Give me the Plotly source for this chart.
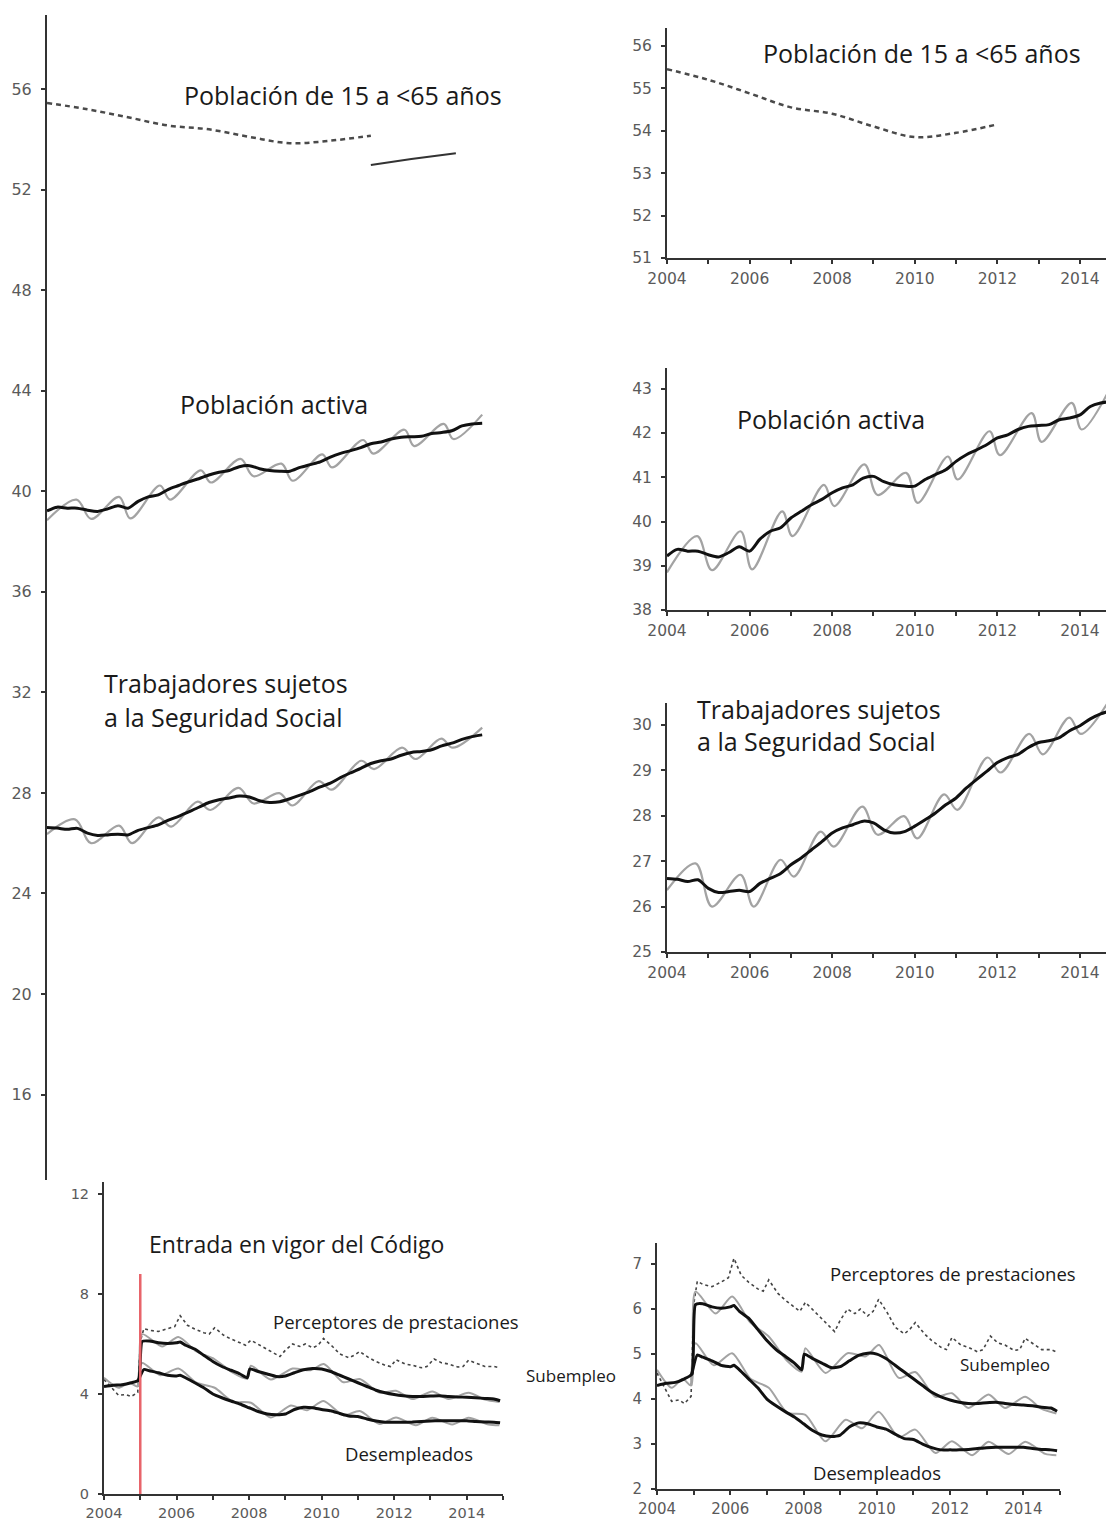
import plotly.graph_objects as go

W, H = 1106, 1521

# ---------------- data ----------------
pop_years = [2004, 2005, 2006, 2007, 2008, 2009, 2010, 2011, 2012]
pop_1565 = [55.45, 55.2, 54.88, 54.55, 54.4, 54.1, 53.85, 53.95, 54.15]
pop_new_years = [2012.0, 2013.0, 2014.1]
pop_new = [52.98, 53.22, 53.45]

q_years = [2004 + i * 0.25 for i in range(44)]
activa_trend = [39.22, 39.37, 39.33, 39.33, 39.25, 39.2, 39.3, 39.43, 39.33, 39.6, 39.78, 39.86,
                40.08, 40.23, 40.38, 40.5, 40.65, 40.76, 40.83, 40.98, 41.02, 40.9, 40.83, 40.8,
                40.8, 40.95, 41.06, 41.17, 41.36, 41.51, 41.62, 41.74, 41.89, 41.96, 42.08, 42.15,
                42.17, 42.19, 42.3, 42.34, 42.41, 42.6, 42.68, 42.71]
activa_seas_x = [2004.0, 2004.73, 2005.09, 2005.78, 2006.06, 2006.79, 2007.04, 2007.8, 2008.05,
                 2008.78, 2009.1, 2009.79, 2010.07, 2010.8, 2011.04, 2011.81, 2012.06, 2012.83,
                 2013.07, 2013.8, 2014.04, 2014.75]
activa_seas = [38.85, 39.67, 38.9, 39.78, 38.92, 40.23, 39.67, 40.83, 40.35, 41.29, 40.6, 41.1,
               40.42, 41.47, 40.95, 42.04, 41.5, 42.45, 41.8, 42.68, 42.08, 43.05]

ss_trend = [26.62, 26.6, 26.55, 26.59, 26.4, 26.31, 26.33, 26.36, 26.33, 26.51, 26.62, 26.73,
            26.92, 27.07, 27.25, 27.43, 27.62, 27.73, 27.8, 27.88, 27.84, 27.69, 27.62, 27.65,
            27.77, 27.91, 28.06, 28.24, 28.39, 28.61, 28.8, 28.98, 29.17, 29.28, 29.35, 29.5,
            29.61, 29.65, 29.72, 29.87, 29.98, 30.13, 30.24, 30.31]
ss_seas_x = [2004.0, 2004.69, 2005.09, 2005.78, 2006.1, 2006.75, 2007.07, 2007.72, 2008.04,
             2008.73, 2009.1, 2009.74, 2010.06, 2010.71, 2011.03, 2011.76, 2012.08, 2012.77,
             2013.1, 2013.74, 2014.02, 2014.75]
ss_seas = [26.36, 26.95, 26.0, 26.7, 26.0, 27.03, 26.66, 27.65, 27.32, 28.2, 27.58, 27.99,
           27.5, 28.47, 28.13, 29.28, 28.95, 29.8, 29.35, 30.16, 29.8, 30.6]

perc_x = [2004.0, 2004.25, 2004.4, 2004.6, 2004.75, 2004.93, 2005.0, 2005.1, 2005.25, 2005.5,
          2005.75, 2005.95, 2006.1, 2006.3, 2006.5, 2006.75, 2006.9, 2007.05, 2007.3, 2007.5,
          2007.75, 2007.9, 2008.05, 2008.3, 2008.5, 2008.75, 2008.85, 2009.0, 2009.2, 2009.4,
          2009.55, 2009.75, 2009.9, 2010.05, 2010.3, 2010.5, 2010.75, 2010.9, 2011.05, 2011.3,
          2011.5, 2011.75, 2011.9, 2012.05, 2012.3, 2012.5, 2012.75, 2012.9, 2013.1, 2013.3,
          2013.5, 2013.75, 2013.9, 2014.05, 2014.3, 2014.5, 2014.75, 2014.9]
perceptores = [4.58, 4.2, 3.95, 3.98, 3.9, 4.06, 6.1, 6.62, 6.55, 6.5,
               6.6, 6.7, 7.13, 6.75, 6.6, 6.45, 6.4, 6.65, 6.35, 6.2,
               6.05, 5.95, 6.15, 5.95, 5.8, 5.6, 5.5, 5.75, 6.0, 5.9,
               6.0, 5.85, 5.95, 6.22, 5.9, 5.6, 5.45, 5.55, 5.7, 5.45,
               5.3, 5.15, 5.1, 5.37, 5.2, 5.15, 5.05, 5.1, 5.4, 5.25,
               5.2, 5.08, 5.1, 5.35, 5.2, 5.1, 5.1, 5.05]

sub_x = [2004.0, 2004.25, 2004.5, 2004.75, 2004.95, 2005.05, 2005.25, 2005.5, 2005.75, 2006.0,
         2006.1, 2006.25, 2006.5, 2006.75, 2007.0, 2007.25, 2007.5, 2007.75, 2007.95, 2008.02,
         2008.25, 2008.5, 2008.75, 2009.0, 2009.25, 2009.5, 2009.75, 2010.0, 2010.25, 2010.5,
         2010.75, 2011.0, 2011.25, 2011.5, 2011.75, 2012.0, 2012.25, 2012.5, 2012.75, 2013.0,
         2013.25, 2013.5, 2013.75, 2014.0, 2014.25, 2014.5, 2014.75, 2014.92]
sub_trend = [4.3, 4.35, 4.37, 4.45, 4.55, 6.1, 6.12, 6.05, 6.02, 6.05,
             6.08, 5.95, 5.8, 5.55, 5.3, 5.1, 4.95, 4.8, 4.65, 5.0,
             4.9, 4.8, 4.7, 4.72, 4.85, 4.97, 5.02, 5.0, 4.9, 4.75,
             4.6, 4.45, 4.3, 4.15, 4.05, 3.98, 3.93, 3.9, 3.9, 3.92,
             3.93, 3.9, 3.88, 3.87, 3.85, 3.82, 3.8, 3.73]
sub_seas_x = [2004.0, 2004.4, 2004.7, 2004.93, 2005.05, 2005.6, 2006.05, 2006.55, 2007.05, 2007.55,
              2007.95, 2008.05, 2008.6, 2009.2, 2009.7, 2010.06, 2010.6, 2011.05, 2011.6, 2012.05,
              2012.5, 2013.05, 2013.5, 2014.05, 2014.5, 2014.9]
sub_seas = [4.65, 4.25, 4.45, 4.3, 6.39, 5.9, 6.28, 5.7, 5.39, 4.85,
            4.61, 5.13, 4.58, 5.02, 4.95, 5.2, 4.47, 4.6, 4.05, 4.13,
            3.8, 4.1, 3.8, 4.05, 3.78, 3.68]

des_x = [2004.95, 2005.1, 2005.25, 2005.5, 2005.75, 2006.0, 2006.1, 2006.25, 2006.5, 2006.75,
         2007.0, 2007.25, 2007.5, 2007.75, 2008.0, 2008.25, 2008.5, 2008.75, 2009.0, 2009.25,
         2009.5, 2009.75, 2010.0, 2010.25, 2010.5, 2010.75, 2011.0, 2011.25, 2011.5, 2011.75,
         2012.0, 2012.25, 2012.5, 2012.75, 2013.0, 2013.25, 2013.5, 2013.75, 2014.0, 2014.25,
         2014.5, 2014.75, 2014.92]
des_trend = [4.55, 4.98, 4.93, 4.85, 4.75, 4.72, 4.75, 4.65, 4.45, 4.25,
             4.0, 3.85, 3.72, 3.6, 3.45, 3.3, 3.2, 3.17, 3.2, 3.38,
             3.47, 3.45, 3.38, 3.33, 3.22, 3.12, 3.1, 3.0, 2.92, 2.87,
             2.87, 2.87, 2.88, 2.9, 2.92, 2.93, 2.93, 2.93, 2.93, 2.9,
             2.88, 2.87, 2.85]
des_seas_x = [2004.93, 2005.05, 2005.55, 2006.05, 2006.55, 2007.05, 2007.55, 2008.05, 2008.6,
              2009.15, 2009.6, 2010.05, 2010.6, 2011.05, 2011.6, 2012.05, 2012.6, 2013.05, 2013.6,
              2014.05, 2014.6, 2014.9]
des_seas = [4.3, 5.24, 4.75, 5.02, 4.45, 4.25, 3.7, 3.65, 3.06, 3.54, 3.35, 3.72, 3.15, 3.32,
            2.8, 3.06, 2.75, 3.05, 2.78, 3.05, 2.78, 2.75]

codigo_x = [2005.0, 2005.0]
codigo_y = [0, 8.8]

year_ticks = [2004, 2006, 2008, 2010, 2012, 2014]

# ---------------- layout helpers ----------------
def px(x):
    return x / W

def py(y):
    return 1 - y / H

AX = "#333333"
TICK = "#5a5a5a"
GREY = "#a3a3a3"
BLACK = "#111111"

fig = go.Figure()

panels = {
    # name: (x0, x1, ytop, ybottom, xrange, yrange, ytickvals, show_x, tick font size)
    "1": (47, 500, 15, 1180, [2004, 2015.19], [12.6, 58.95], list(range(16, 57, 4)), False, 16),
    "2": (667, 1106, 28, 258, [2004, 2014.63], [51, 52, 53, 54, 55, 56] and [51, 56.42], [51, 52, 53, 54, 55, 56], True, 15.5),
    "3": (667, 1106, 368, 610, [2004, 2014.63], [38, 43.47], [38, 39, 40, 41, 42, 43], True, 15.5),
    "4": (667, 1106, 703, 952, [2004, 2014.63], [25, 30.48], [25, 26, 27, 28, 29, 30], True, 15.5),
    "5": (104, 503, 1182, 1494, [2004, 2015.0], [0, 12.48], [0, 4, 8, 12], True, 14.5),
    "6": (657, 1060, 1243, 1489, [2004, 2015.0], [2, 7.47], [2, 3, 4, 5, 6, 7], True, 15),
}

layout_axes = {}
for k, (x0, x1, yt, yb, xr, yr, yt_vals, show_x, fs) in panels.items():
    xname = "xaxis" if k == "1" else f"xaxis{k}"
    yname = "yaxis" if k == "1" else f"yaxis{k}"
    anchor_x = "x" if k == "1" else f"x{k}"
    anchor_y = "y" if k == "1" else f"y{k}"
    tfont = dict(family="DejaVu Sans", size=fs, color=TICK)
    layout_axes[xname] = dict(
        domain=[px(x0), min(px(x1), 1.0)], range=xr, anchor=anchor_y,
        showgrid=False, zeroline=False, visible=show_x, automargin=False,
        showline=True, linecolor=AX, linewidth=2,
        tickvals=year_ticks, ticks="outside", ticklen=4, tickcolor=AX, tickwidth=1.5,
        minor=dict(dtick=1, tick0=2004, ticks="outside", ticklen=4, tickcolor=AX, tickwidth=1.5),
        tickfont=tfont, ticklabelstandoff=1, fixedrange=True,
    )
    layout_axes[yname] = dict(
        domain=[py(yb), py(yt)], range=yr, anchor=anchor_x,
        showgrid=False, zeroline=False, automargin=False,
        showline=True, linecolor=AX, linewidth=2,
        tickvals=yt_vals, ticks="outside", ticklen=4, tickcolor=AX, tickwidth=1.5,
        tickfont=tfont, ticklabelstandoff=6, fixedrange=True,
    )


def add(x, y, axes, **kw):
    xa = "x" if axes == "1" else f"x{axes}"
    ya = "y" if axes == "1" else f"y{axes}"
    fig.add_trace(go.Scatter(x=x, y=y, xaxis=xa, yaxis=ya, mode="lines",
                             showlegend=False, hoverinfo="skip", cliponaxis=True, **kw))


seas_style = dict(line=dict(color=GREY, width=2.2, shape="spline", smoothing=1.0))
trend_style = dict(line=dict(color=BLACK, width=3, shape="spline", smoothing=0.8))
pop_style = dict(line=dict(color="#4a4a4a", width=2.5, dash="5px,4px", shape="spline"))

# left big panel
add(pop_years, pop_1565, "1", **pop_style)
add(pop_new_years, pop_new, "1", line=dict(color="#333333", width=2))
add(activa_seas_x, activa_seas, "1", **seas_style)
add(q_years, activa_trend, "1", **trend_style)
add(ss_seas_x, ss_seas, "1", **seas_style)
add(q_years, ss_trend, "1", **trend_style)

# right panels
add(pop_years, pop_1565, "2", **pop_style)
add(activa_seas_x, activa_seas, "3", **seas_style)
add(q_years, activa_trend, "3", **trend_style)
add(ss_seas_x, ss_seas, "4", **seas_style)
add(q_years, ss_trend, "4", **trend_style)

# bottom panels
for p in ["5", "6"]:
    add(perc_x, perceptores, p, line=dict(color="#444444", width=1.6, dash="dot"))
    add(sub_seas_x, sub_seas, p, line=dict(color=GREY, width=2, shape="spline", smoothing=0.7))
    add(des_seas_x, des_seas, p, line=dict(color=GREY, width=2, shape="spline", smoothing=0.7))
    add(sub_x, sub_trend, p, line=dict(color=BLACK, width=3, shape="spline", smoothing=0.5))
    add(des_x, des_trend, p, line=dict(color=BLACK, width=3, shape="spline", smoothing=0.5))
add(codigo_x, codigo_y, "5", line=dict(color="#e8646a", width=2.5))

BIG = dict(family="Open Sans", size=25, color="#1a1a1a")
MID = dict(family="Open Sans", size=23, color="#1a1a1a")
SMALL = dict(family="Open Sans", size=18.5, color="#1a1a1a")
SUB = dict(family="Open Sans", size=17, color="#1a1a1a")
labels = [
    ("Población de 15 a <65 años", 182, 95, BIG),
    ("Población de 15 a <65 años", 761, 53, BIG),
    ("Población activa", 178, 404, BIG),
    ("Población activa", 735, 419, BIG),
    ("Trabajadores sujetos", 102, 683, BIG),
    ("a la Seguridad Social", 102, 717, BIG),
    ("Trabajadores sujetos", 695, 709, BIG),
    ("a la Seguridad Social", 695, 741, BIG),
    ("Entrada en vigor del Código", 147, 1244, MID),
    ("Perceptores de prestaciones", 271, 1321, SMALL),
    ("Perceptores de prestaciones", 828, 1273, SMALL),
    ("Subempleo", 524, 1375, SUB),
    ("Subempleo", 958, 1364, SUB),
    ("Desempleados", 343, 1453, SMALL),
    ("Desempleados", 811, 1472, SMALL),
]
annotations = [
    dict(text=t, x=px(x), y=py(y), xref="paper", yref="paper", xanchor="left", yanchor="middle",
         showarrow=False, font=f)
    for t, x, y, f in labels
]

fig.update_layout(
    width=W, height=H, margin=dict(l=0, r=0, t=0, b=0, autoexpand=False),
    paper_bgcolor="white", plot_bgcolor="white",
    annotations=annotations, showlegend=False,
    **layout_axes,
)

fig.write_html("out.html", config={"displayModeBar": False},
               post_script="document.body.style.margin='0';")
